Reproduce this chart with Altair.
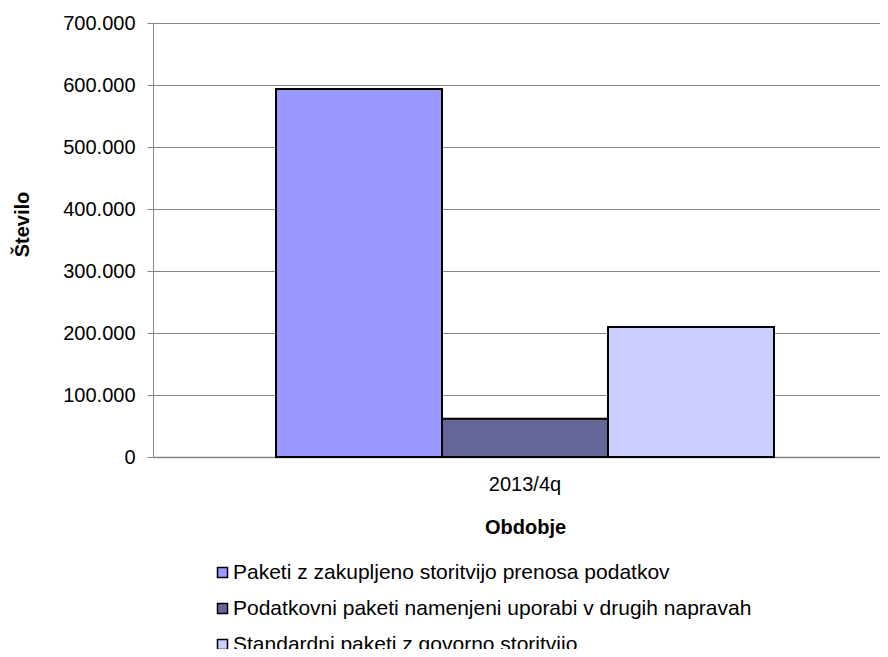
import altair as alt
import pandas as pd

periods = ["2013/4q", "2013/4q", "2013/4q"]
series = [
    "Paketi z zakupljeno storitvijo prenosa podatkov",
    "Podatkovni paketi namenjeni uporabi v drugih napravah",
    "Standardni paketi z govorno storitvijo",
]
values = [593500, 61500, 209700]
colors = ["#9999FF", "#666699", "#CCCCFF"]
y_ticks = [0, 100000, 200000, 300000, 400000, 500000, 600000, 700000]

df = pd.DataFrame({"period": periods, "series": series, "value": values})

FONT = "Liberation Sans"

chart = alt.Chart(df).mark_bar(stroke="black", strokeWidth=2).encode(
    x=alt.X("period:N", title="Obdobje",
            scale=alt.Scale(paddingOuter=0.247, paddingInner=0),
            axis=alt.Axis(labelAngle=0, tickSize=0, labelPadding=17, titlePadding=23,
                          labelFontSize=20, titleFontSize=20, titleFontWeight="bold",
                          labelColor="black", titleColor="black",
                          domainColor="#868686", domainWidth=1.5, grid=False)),
    xOffset=alt.XOffset("series:N", sort=series, scale=alt.Scale(paddingInner=0, paddingOuter=0)),
    y=alt.Y("value:Q", title="Število",
            scale=alt.Scale(domain=[0, 700000], nice=False),
            axis=alt.Axis(values=y_ticks, tickSize=6, labelPadding=12,
                          labelExpr="replace(format(datum.value, ','), ',', '.')",
                          labelFontSize=20, titleFontSize=20, titleFontWeight="bold",
                          labelColor="black", titleColor="black", titlePadding=30,
                          titleY=201,
                          domainColor="#868686", tickColor="#868686", gridColor="#868686",
                          gridWidth=1)),
    color=alt.Color("series:N", sort=series,
                    scale=alt.Scale(domain=series, range=colors),
                    legend=alt.Legend(title=None, orient="none", legendX=59, legendY=539,
                                      symbolType="square", symbolSize=100,
                                      symbolStrokeColor="black", symbolStrokeWidth=1.5,
                                      labelFontSize=21, labelColor="black", labelOffset=0,
                                      rowPadding=14, labelLimit=800)),
).properties(
    width=744, height=434,
    autosize=alt.AutoSizeParams(type="none"),
    padding={"left": 145, "top": 15, "right": -17, "bottom": 192},
).configure(font=FONT).configure_view(stroke=None)

chart.save("out.html", embed_options={"renderer": "svg", "actions": False})
